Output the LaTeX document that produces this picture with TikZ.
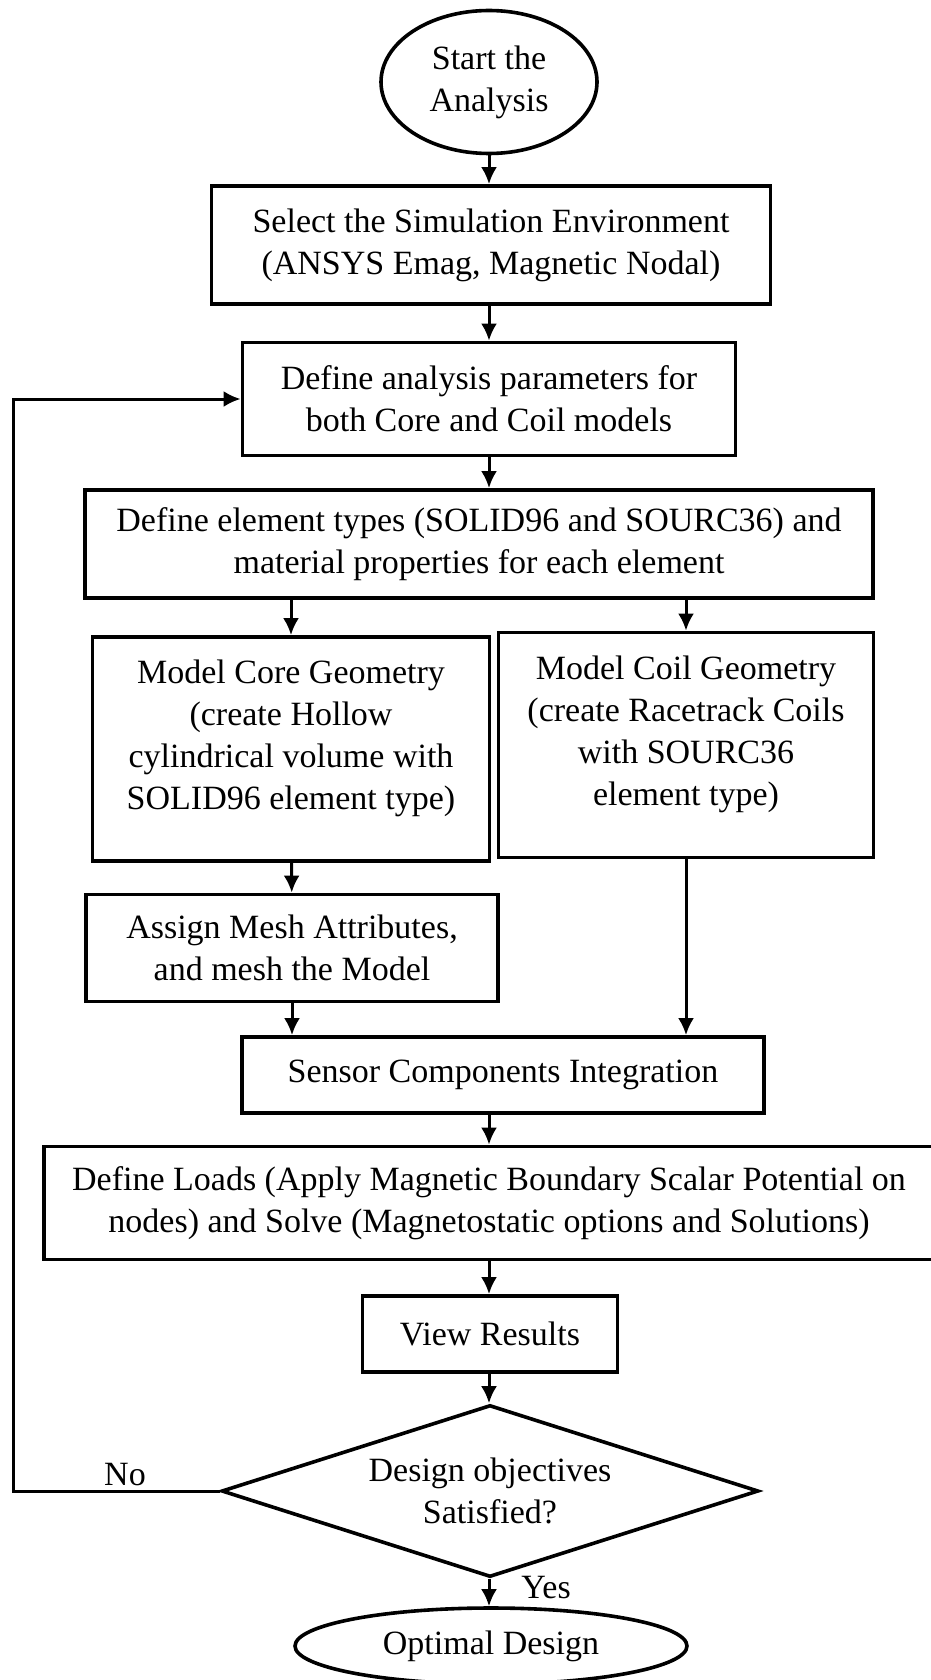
\documentclass[tikz,border=0pt]{standalone}
\usepackage{fontspec}
\setmainfont{Liberation Serif}
\usepackage{tikz}
\usetikzlibrary{shapes.geometric}
\usetikzlibrary{arrows.meta}

\begin{document}
\begin{tikzpicture}[x=1pt,y=-1pt,
		box/.style={rectangle,draw,line width=3.8pt,align=center,inner sep=0pt},
		oval/.style={ellipse,draw,line width=3.6pt,align=center,inner sep=0pt},
		arr/.style={line width=3pt,-{Latex[length=17pt,width=16pt]}},
		font=\fontsize{34}{42}\selectfont]
				
				\useasboundingbox (0,0) rectangle (930,1680);
				
				\node[oval,minimum width=216pt,minimum height=143pt] (start) at (489,82) {Start the\\Analysis};
				\node[box,minimum width=559pt,minimum height=118pt] (env) at (491,245) {Select the Simulation Environment\\(ANSYS Emag, Magnetic Nodal)};
				\node[box,minimum width=493pt,minimum height=113pt] (param) at (489,399) {Define analysis parameters for\\both Core and Coil models};
				\node[box,minimum width=788pt,minimum height=108pt] (elem) at (479,544) {Define element types (SOLID96 and SOURC36) and\\material properties for each element};
				
				\node[box,minimum width=397pt,minimum height=224pt,text depth=28pt] (core) at (291,749) {Model Core Geometry\\(create Hollow\\cylindrical volume with\\SOLID96 element type)};
				\node[box,minimum width=375pt,minimum height=225pt,text depth=28pt] (coil) at (686,745) {Model Coil Geometry\\(create Racetrack Coils\\with SOURC36\\element type)};
				\node[box,minimum width=412pt,minimum height=107pt] (mesh) at (292,948) {Assign Mesh Attributes,\\and mesh the Model};
				
				\node[box,minimum width=522pt,minimum height=76pt] (sensor) at (503,1075) {Sensor Components Integration};
				\node[box,minimum width=890pt,minimum height=113pt] (loads) at (489,1203) {Define Loads (Apply Magnetic Boundary Scalar Potential on\\nodes) and Solve (Magnetostatic options and Solutions)};
				\node[box,minimum width=255pt,minimum height=76pt] (view) at (490,1334) {View Results};
				\node[diamond,draw,line width=3.6pt,align=center,inner sep=0pt,aspect=3.12,minimum width=537pt,minimum height=172pt] (check) at (490,1491) {Design objectives\\Satisfied?};
				\node[oval,minimum width=392pt,minimum height=76pt] (final) at (491,1646) {Optimal Design};
				
				\node (no) at (125,1475) {No};
				\node (yes) at (546,1588) {Yes};
				\coordinate (back) at (13,1491);
				
				\draw[arr] (start) -- (env.north -| start);
				\draw[arr] (env.south -| start) -- (param.north -| start);
				\draw[arr] (param.south -| start) -- (elem.north -| start);
				\draw[arr] (elem.south -| core) -- (core.north);
				\draw[arr] (elem.south -| coil) -- (coil.north);
				\draw[arr] (core) -- (mesh);
				\draw[arr] (mesh.south) -- (sensor.north -| mesh);
				\draw[arr] (coil.south) -- (sensor.north -| coil);
				\draw[arr] (sensor.south -| start) -- (loads.north -| start);
				\draw[arr] (loads.south -| start) -- (view.north -| start);
				\draw[arr] (view.south -| start) -- (check.north -| start);
				\draw[arr] (check.south -| start) -- (final.north -| start);
				
				\draw[arr] (check.west) -- (back) |- (param.west);
				
			\end{tikzpicture}
\end{document}
